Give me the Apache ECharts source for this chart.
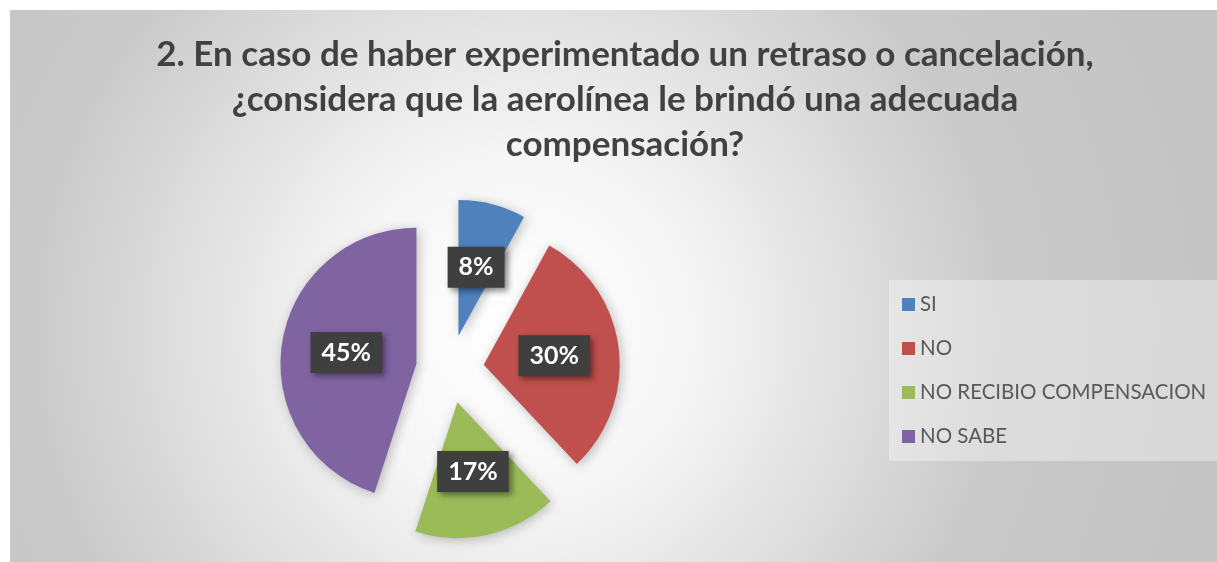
<!DOCTYPE html>
<html>
<head>
<meta charset="utf-8">
<script src="https://cdn.jsdelivr.net/npm/echarts@6/dist/echarts.min.js"></script>
<style>
  html, body { margin: 0; padding: 0; background: #fff; }
  #box1 { position: absolute; left: 10px; top: 10px; width: 1207px; height: 552px; }
</style>
</head>
<body>
<div id="box1"></div>
<script>
// datos del grafico
var categorias = ['SI', 'NO', 'NO RECIBIO COMPENSACION', 'NO SABE'];
var porcentajes = [8, 30, 17, 45];
var colores = ['#4f81bd', '#c0504d', '#9bbb59', '#8064a2'];
var titulo = '2. En caso de haber experimentado un retraso o cancelación,\n¿considera que la aerolínea le brindó una adecuada\ncompensación?';

var myChart1 = echarts.init(document.getElementById('box1'));

var datos = categorias.map(function (c, i) {
  return { name: c, value: porcentajes[i], selected: true, itemStyle: { color: colores[i] } };
});

var option1 = {
  backgroundColor: {
    type: 'radial', x: 0.42, y: 0.58, r: 1.25,
    colorStops: [
      { offset: 0, color: '#ffffff' },
      { offset: 0.25, color: '#f6f6f6' },
      { offset: 0.7, color: '#cacaca' },
      { offset: 1, color: '#c4c4c4' }
    ]
  },
  title: {   //titulo
    text: titulo,
    left: 610,
    top: 17,
    textAlign: 'center',
    textStyle: {
      fontFamily: 'Lato',
      fontWeight: 'bold',
      fontSize: 35,
      lineHeight: 45,
      color: '#414141'
    }
  },
  legend: {
    orient: 'vertical',
    left: 879,
    top: 270,
    width: 328,
    height: 180,
    padding: [14, 200, 14, 13],
    backgroundColor: 'rgba(255,255,255,0.35)',
    itemWidth: 13,
    itemHeight: 13,
    itemGap: 23,
    icon: 'rect',
    selectedMode: false,
    data: categorias,
    textStyle: { fontFamily: 'Lato', fontSize: 20.5, color: '#595959' }
  },
  series: [{
    type: 'pie',
    radius: 136,
    center: [440, 359],
    startAngle: 90,
    selectedMode: 'multiple',
    selectedOffset: 34,
    emphasis: { disabled: true },
    itemStyle: {
      shadowBlur: 12,
      shadowColor: 'rgba(0,0,0,0.25)',
      shadowOffsetX: 2,
      shadowOffsetY: 2
    },
    label: {
      show: true,
      position: 'inside',
      formatter: function (p) { return p.value + '%'; },
      fontFamily: 'Lato',
      fontWeight: 'bold',
      fontSize: 25,
      color: '#ffffff',
      backgroundColor: '#3f3f3f',
      padding: [8, 11, 8, 11],
      shadowBlur: 6,
      shadowColor: 'rgba(0,0,0,0.45)',
      shadowOffsetX: 3,
      shadowOffsetY: 3
    },
    labelLine: { show: false },
    data: datos
  }]
};

myChart1.setOption(option1);
</script>
</body>
</html>
